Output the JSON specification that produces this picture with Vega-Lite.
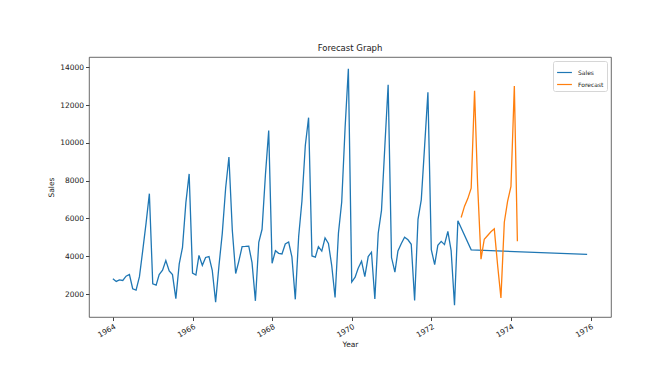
{
  "$schema": "https://vega.github.io/schema/vega-lite/v6.json",
  "autosize": {"type": "none"},
  "padding": {"left": 89, "top": 57, "right": 52, "bottom": 62},
  "width": 522,
  "height": 260,
  "background": "white",
  "title": {
    "text": "Forecast Graph",
    "fontSize": 8.5,
    "fontWeight": "normal",
    "font": "DejaVu Sans",
    "color": "#222",
    "anchor": "middle",
    "offset": 5
  },
  "config": {
    "font": "DejaVu Sans",
    "view": {"stroke": "#444", "strokeWidth": 0.8},
    "axis": {
      "grid": false,
      "domain": false,
      "tickColor": "#444",
      "tickSize": 3.5,
      "labelFontSize": 7.5,
      "labelColor": "#222",
      "titleFontSize": 7.5,
      "titleFontWeight": "normal",
      "titleColor": "#222",
      "labelPadding": 2
    },
    "legend": {
      "orient": "top-right",
      "offset": 4,
      "padding": 3,
      "strokeColor": "#d6d6d6",
      "fillColor": "white",
      "cornerRadius": 2,
      "symbolType": "stroke",
      "symbolStrokeWidth": 1.2,
      "symbolSize": 220,
      "labelFontSize": 6,
      "labelColor": "#222",
      "labelOffset": 5,
      "rowPadding": -5
    }
  },
  "data": {
    "format": {"parse": {"date": "date:'%Y-%m'"}},
    "values": [
      {"date": "1964-01", "value": 2815, "series": "Sales"},
      {"date": "1964-02", "value": 2672, "series": "Sales"},
      {"date": "1964-03", "value": 2755, "series": "Sales"},
      {"date": "1964-04", "value": 2721, "series": "Sales"},
      {"date": "1964-05", "value": 2946, "series": "Sales"},
      {"date": "1964-06", "value": 3036, "series": "Sales"},
      {"date": "1964-07", "value": 2282, "series": "Sales"},
      {"date": "1964-08", "value": 2212, "series": "Sales"},
      {"date": "1964-09", "value": 2922, "series": "Sales"},
      {"date": "1964-10", "value": 4301, "series": "Sales"},
      {"date": "1964-11", "value": 5764, "series": "Sales"},
      {"date": "1964-12", "value": 7312, "series": "Sales"},
      {"date": "1965-01", "value": 2541, "series": "Sales"},
      {"date": "1965-02", "value": 2475, "series": "Sales"},
      {"date": "1965-03", "value": 3031, "series": "Sales"},
      {"date": "1965-04", "value": 3266, "series": "Sales"},
      {"date": "1965-05", "value": 3776, "series": "Sales"},
      {"date": "1965-06", "value": 3230, "series": "Sales"},
      {"date": "1965-07", "value": 3028, "series": "Sales"},
      {"date": "1965-08", "value": 1759, "series": "Sales"},
      {"date": "1965-09", "value": 3595, "series": "Sales"},
      {"date": "1965-10", "value": 4474, "series": "Sales"},
      {"date": "1965-11", "value": 6838, "series": "Sales"},
      {"date": "1965-12", "value": 8357, "series": "Sales"},
      {"date": "1966-01", "value": 3113, "series": "Sales"},
      {"date": "1966-02", "value": 3006, "series": "Sales"},
      {"date": "1966-03", "value": 4047, "series": "Sales"},
      {"date": "1966-04", "value": 3523, "series": "Sales"},
      {"date": "1966-05", "value": 3937, "series": "Sales"},
      {"date": "1966-06", "value": 3986, "series": "Sales"},
      {"date": "1966-07", "value": 3260, "series": "Sales"},
      {"date": "1966-08", "value": 1573, "series": "Sales"},
      {"date": "1966-09", "value": 3528, "series": "Sales"},
      {"date": "1966-10", "value": 5211, "series": "Sales"},
      {"date": "1966-11", "value": 7614, "series": "Sales"},
      {"date": "1966-12", "value": 9254, "series": "Sales"},
      {"date": "1967-01", "value": 5375, "series": "Sales"},
      {"date": "1967-02", "value": 3088, "series": "Sales"},
      {"date": "1967-03", "value": 3718, "series": "Sales"},
      {"date": "1967-04", "value": 4514, "series": "Sales"},
      {"date": "1967-05", "value": 4520, "series": "Sales"},
      {"date": "1967-06", "value": 4539, "series": "Sales"},
      {"date": "1967-07", "value": 3663, "series": "Sales"},
      {"date": "1967-08", "value": 1643, "series": "Sales"},
      {"date": "1967-09", "value": 4739, "series": "Sales"},
      {"date": "1967-10", "value": 5428, "series": "Sales"},
      {"date": "1967-11", "value": 8314, "series": "Sales"},
      {"date": "1967-12", "value": 10651, "series": "Sales"},
      {"date": "1968-01", "value": 3633, "series": "Sales"},
      {"date": "1968-02", "value": 4292, "series": "Sales"},
      {"date": "1968-03", "value": 4154, "series": "Sales"},
      {"date": "1968-04", "value": 4121, "series": "Sales"},
      {"date": "1968-05", "value": 4647, "series": "Sales"},
      {"date": "1968-06", "value": 4753, "series": "Sales"},
      {"date": "1968-07", "value": 3965, "series": "Sales"},
      {"date": "1968-08", "value": 1723, "series": "Sales"},
      {"date": "1968-09", "value": 5048, "series": "Sales"},
      {"date": "1968-10", "value": 6922, "series": "Sales"},
      {"date": "1968-11", "value": 9858, "series": "Sales"},
      {"date": "1968-12", "value": 11331, "series": "Sales"},
      {"date": "1969-01", "value": 4016, "series": "Sales"},
      {"date": "1969-02", "value": 3957, "series": "Sales"},
      {"date": "1969-03", "value": 4510, "series": "Sales"},
      {"date": "1969-04", "value": 4276, "series": "Sales"},
      {"date": "1969-05", "value": 4968, "series": "Sales"},
      {"date": "1969-06", "value": 4677, "series": "Sales"},
      {"date": "1969-07", "value": 3523, "series": "Sales"},
      {"date": "1969-08", "value": 1821, "series": "Sales"},
      {"date": "1969-09", "value": 5222, "series": "Sales"},
      {"date": "1969-10", "value": 6872, "series": "Sales"},
      {"date": "1969-11", "value": 10803, "series": "Sales"},
      {"date": "1969-12", "value": 13916, "series": "Sales"},
      {"date": "1970-01", "value": 2639, "series": "Sales"},
      {"date": "1970-02", "value": 2899, "series": "Sales"},
      {"date": "1970-03", "value": 3370, "series": "Sales"},
      {"date": "1970-04", "value": 3740, "series": "Sales"},
      {"date": "1970-05", "value": 2927, "series": "Sales"},
      {"date": "1970-06", "value": 3986, "series": "Sales"},
      {"date": "1970-07", "value": 4217, "series": "Sales"},
      {"date": "1970-08", "value": 1738, "series": "Sales"},
      {"date": "1970-09", "value": 5221, "series": "Sales"},
      {"date": "1970-10", "value": 6424, "series": "Sales"},
      {"date": "1970-11", "value": 9842, "series": "Sales"},
      {"date": "1970-12", "value": 13076, "series": "Sales"},
      {"date": "1971-01", "value": 3934, "series": "Sales"},
      {"date": "1971-02", "value": 3162, "series": "Sales"},
      {"date": "1971-03", "value": 4286, "series": "Sales"},
      {"date": "1971-04", "value": 4676, "series": "Sales"},
      {"date": "1971-05", "value": 5010, "series": "Sales"},
      {"date": "1971-06", "value": 4874, "series": "Sales"},
      {"date": "1971-07", "value": 4633, "series": "Sales"},
      {"date": "1971-08", "value": 1659, "series": "Sales"},
      {"date": "1971-09", "value": 5951, "series": "Sales"},
      {"date": "1971-10", "value": 6981, "series": "Sales"},
      {"date": "1971-11", "value": 9851, "series": "Sales"},
      {"date": "1971-12", "value": 12670, "series": "Sales"},
      {"date": "1972-01", "value": 4348, "series": "Sales"},
      {"date": "1972-02", "value": 3564, "series": "Sales"},
      {"date": "1972-03", "value": 4577, "series": "Sales"},
      {"date": "1972-04", "value": 4788, "series": "Sales"},
      {"date": "1972-05", "value": 4618, "series": "Sales"},
      {"date": "1972-06", "value": 5312, "series": "Sales"},
      {"date": "1972-07", "value": 4298, "series": "Sales"},
      {"date": "1972-08", "value": 1413, "series": "Sales"},
      {"date": "1972-09", "value": 5877, "series": "Sales"},
      {"date": "1973-01", "value": 4340, "series": "Sales"},
      {"date": "1975-12", "value": 4100, "series": "Sales"},
      {"date": "1972-10", "value": 6050, "series": "Forecast"},
      {"date": "1972-11", "value": 6650, "series": "Forecast"},
      {"date": "1972-12", "value": 7050, "series": "Forecast"},
      {"date": "1973-01", "value": 7600, "series": "Forecast"},
      {"date": "1973-02", "value": 12750, "series": "Forecast"},
      {"date": "1973-03", "value": 7800, "series": "Forecast"},
      {"date": "1973-04", "value": 3850, "series": "Forecast"},
      {"date": "1973-05", "value": 4900, "series": "Forecast"},
      {"date": "1973-06", "value": 5100, "series": "Forecast"},
      {"date": "1973-07", "value": 5300, "series": "Forecast"},
      {"date": "1973-08", "value": 5450, "series": "Forecast"},
      {"date": "1973-09", "value": 3500, "series": "Forecast"},
      {"date": "1973-10", "value": 1800, "series": "Forecast"},
      {"date": "1973-11", "value": 5800, "series": "Forecast"},
      {"date": "1973-12", "value": 6900, "series": "Forecast"},
      {"date": "1974-01", "value": 7700, "series": "Forecast"},
      {"date": "1974-02", "value": 13000, "series": "Forecast"},
      {"date": "1974-03", "value": 4800, "series": "Forecast"}
    ]
  },
  "mark": {"type": "line", "strokeWidth": 1.3, "interpolate": "linear"},
  "encoding": {
    "x": {
      "field": "date",
      "type": "temporal",
      "title": "Year",
      "scale": {
        "domain": [
          {"year": 1963, "month": 5, "date": 27},
          {"year": 1976, "month": 7, "date": 7}
        ]
      },
      "axis": {
        "values": [
          {"year": 1964, "month": 1, "date": 1},
          {"year": 1966, "month": 1, "date": 1},
          {"year": 1968, "month": 1, "date": 1},
          {"year": 1970, "month": 1, "date": 1},
          {"year": 1972, "month": 1, "date": 1},
          {"year": 1974, "month": 1, "date": 1},
          {"year": 1976, "month": 1, "date": 1}
        ],
        "format": "%Y",
        "labelAngle": -30,
        "labelAlign": "right",
        "labelBaseline": "top",
        "titlePadding": 2
      }
    },
    "y": {
      "field": "value",
      "type": "quantitative",
      "title": "Sales",
      "scale": {"domain": [788, 14541], "nice": false, "zero": false},
      "axis": {
        "values": [2000, 4000, 6000, 8000, 10000, 12000, 14000],
        "format": "d",
        "titlePadding": 4
      }
    },
    "color": {
      "field": "series",
      "type": "nominal",
      "title": null,
      "scale": {"domain": ["Sales", "Forecast"], "range": ["#1f77b4", "#ff7f0e"]}
    }
  }
}
